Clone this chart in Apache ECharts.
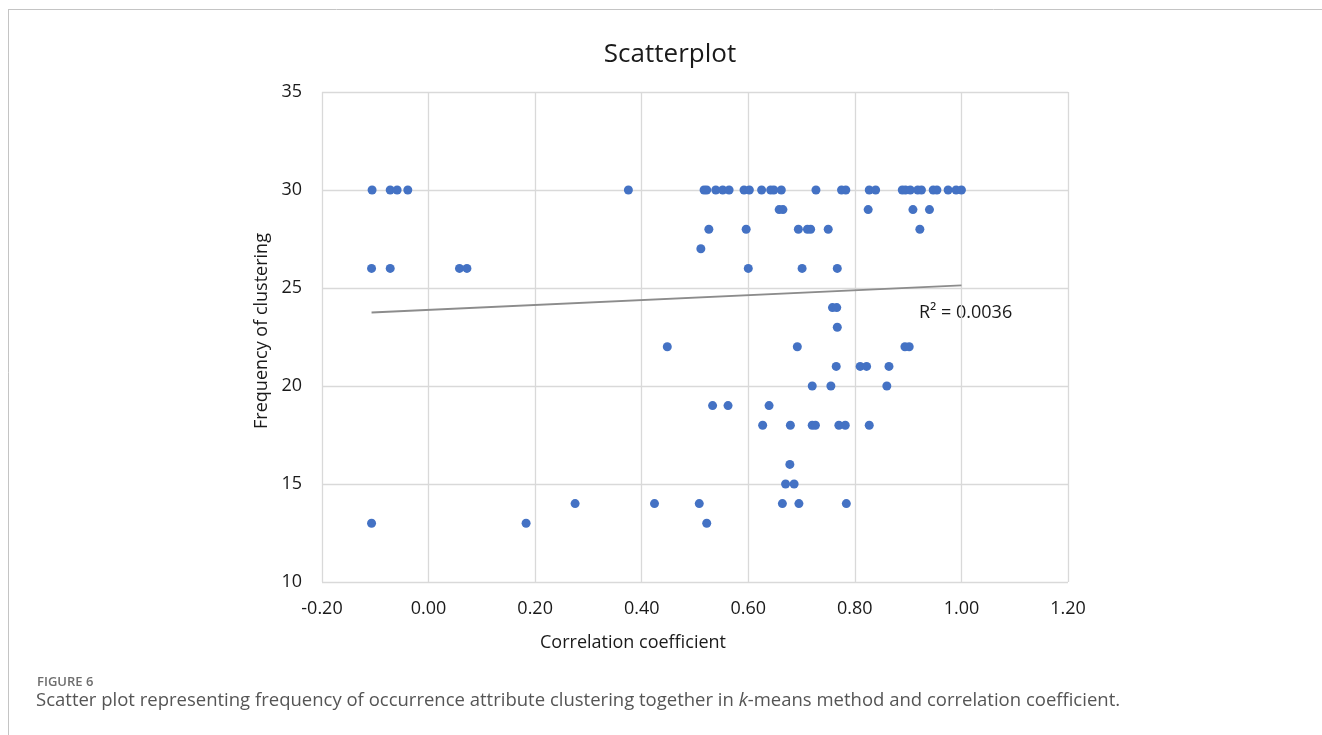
<!DOCTYPE html>
<html>
<head>
<meta charset="utf-8">
<style>
html,body{margin:0;padding:0;background:#fff;}
#chart{width:1322px;height:735px;}
</style>
<script src="https://cdn.jsdelivr.net/npm/echarts@6/dist/echarts.min.js"></script>
</head>
<body>
<div id="chart"></div>
<script>
// Correlation coefficient (x) and frequency of clustering (y)
const xValues = [
  -0.106, -0.072, -0.059, -0.039, 0.375, 0.517, 0.522, 0.539, 0.552, 0.564, 0.592, 0.602, 0.625, 0.642, 0.648, 0.662, 0.727, 0.775, 0.783, 0.827, 0.839, 0.889, 0.895, 0.904, 0.918, 0.925, 0.947, 0.954, 0.975, 0.990, 1.000,
  0.658, 0.665, 0.825, 0.909, 0.940,
  0.526, 0.596, 0.694, 0.711, 0.717, 0.750, 0.922,
  0.511,
  -0.107, -0.072, 0.058, 0.072, 0.600, 0.701, 0.767,
  0.758, 0.766,
  0.767,
  0.448, 0.692, 0.894, 0.902,
  0.765, 0.810, 0.822, 0.864,
  0.720, 0.755, 0.860,
  0.533, 0.562, 0.639,
  0.627, 0.679, 0.720, 0.726, 0.770, 0.782, 0.827,
  0.678,
  0.670, 0.686,
  0.275, 0.424, 0.508, 0.664, 0.695, 0.784,
  -0.107, 0.183, 0.522
];
const yValues = [
  30, 30, 30, 30, 30, 30, 30, 30, 30, 30, 30, 30, 30, 30, 30, 30, 30, 30, 30, 30, 30, 30, 30, 30, 30, 30, 30, 30, 30, 30, 30,
  29, 29, 29, 29, 29,
  28, 28, 28, 28, 28, 28, 28,
  27,
  26, 26, 26, 26, 26, 26, 26,
  24, 24,
  23,
  22, 22, 22, 22,
  21, 21, 21, 21,
  20, 20, 20,
  19, 19, 19,
  18, 18, 18, 18, 18, 18, 18,
  16,
  15, 15,
  14, 14, 14, 14, 14, 14,
  13, 13, 13
];
// linear trendline endpoints
const trendX = [-0.107, 1.0];
const trendY = [23.75, 25.13];
const xTicks = [-0.2, 0.0, 0.2, 0.4, 0.6, 0.8, 1.0, 1.2];
const yTicks = [10, 15, 20, 25, 30, 35];
const r2Text = 'R² = 0.0036';

const points = xValues.map((x, i) => [x, yValues[i]]);
const trend = trendX.map((x, i) => [x, trendY[i]]);

const FONT = '"Open Sans", "Liberation Sans", sans-serif';
const chart = echarts.init(document.getElementById('chart'));
chart.setOption({
  animation: false,
  backgroundColor: '#fff',
  title: {
    text: 'Scatterplot',
    left: 665, top: 37, textAlign: 'center',
    textStyle: { fontFamily: FONT, fontSize: 26, fontWeight: 'normal', color: '#1a1a1a' }
  },
  grid: { left: 322, right: 254, top: 92, bottom: 153, outerBoundsMode: 'none', containLabel: false },
  xAxis: {
    type: 'value', min: xTicks[0], max: xTicks[xTicks.length - 1], interval: 0.2,
    name: 'Correlation coefficient', nameLocation: 'middle', nameGap: 52,
    nameTextStyle: { fontFamily: FONT, fontSize: 18, color: '#1a1a1a', padding: [0, 124, 0, 0] },
    axisLine: { show: false }, axisTick: { show: false },
    axisLabel: { fontFamily: FONT, fontSize: 18, color: '#1a1a1a', margin: 18, formatter: v => v.toFixed(2) },
    splitLine: { show: true, lineStyle: { color: '#d9d9d9', width: 1.3 } }
  },
  yAxis: {
    type: 'value', min: yTicks[0], max: yTicks[yTicks.length - 1], interval: 5,
    name: 'Frequency of clustering', nameLocation: 'middle', nameGap: 48, nameRotate: 90,
    nameTextStyle: { fontFamily: FONT, fontSize: 18, color: '#1a1a1a', padding: [0, 0, 0, 12] },
    axisLine: { show: false }, axisTick: { show: false },
    axisLabel: { fontFamily: FONT, fontSize: 18, color: '#1a1a1a', margin: 20 },
    splitLine: { show: true, lineStyle: { color: '#d9d9d9', width: 1.3 } }
  },
  series: [
    {
      type: 'line', data: trend, symbol: 'none', silent: true,
      lineStyle: { color: '#8c8c8c', width: 1.8 }, z: 1
    },
    {
      type: 'scatter', data: points, symbolSize: 9,
      itemStyle: { color: '#4472C4', opacity: 1 }, z: 3
    }
  ],
  graphic: [
    { type: 'line', shape: { x1: 8, y1: 9.5, x2: 1322, y2: 9.5 }, style: { stroke: '#c4c4c4', lineWidth: 1 } },
    { type: 'line', shape: { x1: 8.5, y1: 9.5, x2: 8.5, y2: 735 }, style: { stroke: '#c4c4c4', lineWidth: 1 } },
    { type: 'text', left: 919, top: 304, style: { text: r2Text, font: '18px ' + FONT, fill: '#1a1a1a' } },
    { type: 'text', left: 37, top: 676, style: { text: 'FIGURE 6', font: '600 13px ' + FONT, fill: '#6e6e6e' } },
    { type: 'text', left: 36, top: 691, style: {
        text: '{a|Scatter plot representing frequency of occurrence attribute clustering together in }{i|k}{a|-means method and correlation coefficient.}',
        rich: {
          a: { fontFamily: FONT, fontSize: 18.5, fill: '#555555', color: '#555555' },
          i: { fontFamily: FONT, fontSize: 18.5, fontStyle: 'italic', fill: '#555555', color: '#555555' }
        }
      } }
  ]
});
</script>
</body>
</html>
